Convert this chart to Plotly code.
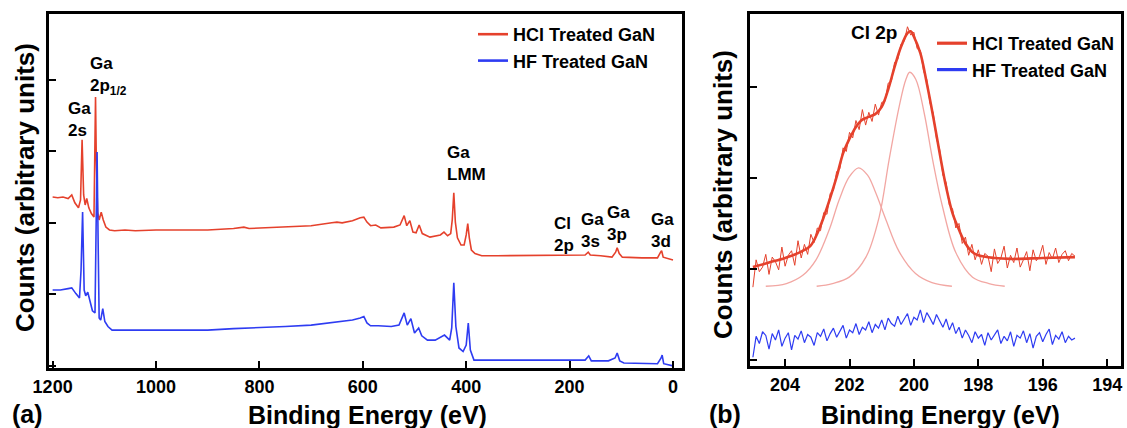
import numpy as np
import plotly.graph_objects as go

W, H = 1127, 428

# ---------------- Panel (a): survey spectra ----------------
survey_hcl_energy = [1200, 1190, 1180, 1170, 1163, 1157, 1150, 1146, 1143, 1140, 1137, 1134, 1130, 1125, 1120,
                     1118.5, 1117, 1115.5, 1113, 1110, 1106, 1102, 1097, 1090, 1080, 1060, 1040, 1000, 960, 900,
                     850, 830, 820, 780, 740, 700, 660, 650, 640, 620, 605, 598, 592, 585, 575, 565, 540, 528,
                     520, 515, 509, 503, 497, 491, 485, 470, 450, 443, 436, 430, 427, 424, 421, 417, 410, 404,
                     400, 397, 394, 390, 383, 370, 340, 300, 250, 200, 170, 164, 160, 140, 118, 111, 108, 104,
                     98, 60, 30, 24, 22, 19, 10, 0]
survey_hcl_counts = [2.36, 2.35, 2.36, 2.34, 2.39, 2.28, 2.21, 2.32, 3.16, 2.39, 2.25, 2.34, 2.21, 2.13, 2.08,
                     2.74, 3.76, 2.88, 2.15, 2.04, 2.15, 2.04, 1.94, 1.90, 1.89, 1.90, 1.89, 1.90, 1.90, 1.90,
                     1.92, 1.94, 1.92, 1.93, 1.94, 1.96, 2.00, 2.01, 2.00, 2.03, 2.07, 2.08, 2.01, 1.96, 1.97,
                     1.93, 1.94, 1.97, 2.10, 1.96, 2.03, 1.87, 1.86, 1.97, 1.85, 1.80, 1.83, 1.87, 1.82, 1.85,
                     2.04, 2.42, 2.01, 1.79, 1.69, 1.69, 1.83, 1.99, 1.79, 1.62, 1.57, 1.54, 1.54, 1.54, 1.54,
                     1.54, 1.55, 1.59, 1.55, 1.54, 1.52, 1.59, 1.65, 1.57, 1.52, 1.51, 1.51, 1.59, 1.61, 1.52,
                     1.50, 1.48]

survey_hf_energy = [1200, 1185, 1170, 1163, 1155, 1148, 1145, 1142, 1139, 1136, 1132, 1128, 1123, 1118, 1116,
                    1114, 1112, 1110, 1107, 1103, 1099, 1093, 1085, 1060, 1040, 1000, 960, 900, 850, 800, 750,
                    700, 660, 640, 620, 605, 598, 592, 585, 570, 545, 530, 520, 514, 507, 500, 492, 486, 475,
                    460, 442, 432, 428, 424, 420, 414, 406, 400, 396, 392, 385, 370, 300, 200, 170, 163, 158,
                    125, 112, 108, 103, 95, 30, 23, 21, 18, 5, 0]
survey_hf_counts = [1.06, 1.06, 1.08, 1.09, 1.01, 0.95, 1.34, 2.15, 1.06, 0.98, 1.03, 0.90, 0.77, 0.74, 1.90,
                    2.99, 1.76, 0.67, 0.64, 0.80, 0.62, 0.55, 0.50, 0.50, 0.49, 0.50, 0.49, 0.50, 0.52, 0.53,
                    0.55, 0.57, 0.60, 0.62, 0.64, 0.67, 0.69, 0.60, 0.56, 0.56, 0.55, 0.57, 0.74, 0.57, 0.66,
                    0.46, 0.53, 0.42, 0.36, 0.36, 0.43, 0.36, 0.53, 1.16, 0.55, 0.25, 0.20, 0.29, 0.60, 0.22,
                    0.08, 0.08, 0.08, 0.08, 0.08, 0.14, 0.07, 0.07, 0.11, 0.18, 0.07, 0.04, 0.03, 0.11, 0.15,
                    0.03, 0.01, 0.00]

# ---------------- Panel (b): Cl 2p region (205.0 -> 195.0 eV, 0.1 eV steps) ----------------
cl_hcl_raw = [0.80, 1.10, 0.97, 1.02, 1.16, 0.94, 1.13, 1.08, 0.99, 1.24,
              1.03, 1.15, 1.20, 1.04, 1.31, 1.12, 1.27, 1.16, 1.38, 1.29,
              1.45, 1.42, 1.62, 1.60, 1.83, 1.86, 2.07, 2.10, 2.33, 2.29,
              2.50, 2.44, 2.63, 2.53, 2.75, 2.58, 2.72, 2.62, 2.81, 2.69,
              2.83, 2.84, 3.04, 3.06, 3.27, 3.30, 3.47, 3.50, 3.66, 3.57,
              3.60, 3.42, 3.40, 3.17, 3.08, 2.82, 2.71, 2.43, 2.31, 2.03,
              1.95, 1.70, 1.66, 1.45, 1.50, 1.28, 1.35, 1.15, 1.27, 1.10,
              1.21, 1.05, 1.17, 1.14, 0.97, 1.22, 1.06, 1.12, 1.25, 1.01,
              1.15, 1.07, 1.23, 1.02, 1.10, 1.19, 0.98, 1.21, 1.09, 1.14,
              1.26, 1.05, 1.18, 1.11, 1.23, 1.07, 1.16, 1.20, 1.09, 1.17,
              1.14]
cl_hf_raw = [0.03, 0.26, 0.18, 0.31, 0.27, 0.12, 0.29, 0.22, 0.33, 0.15,
             0.24, 0.30, 0.11, 0.27, 0.23, 0.32, 0.19, 0.28, 0.25, 0.16,
             0.30, 0.26, 0.34, 0.21, 0.29, 0.35, 0.25, 0.31, 0.38, 0.24,
             0.33, 0.30, 0.40, 0.28, 0.36, 0.33, 0.42, 0.30, 0.39, 0.35,
             0.44, 0.33, 0.46, 0.40, 0.37, 0.48, 0.39, 0.45, 0.51, 0.38,
             0.47, 0.44, 0.55, 0.41, 0.52, 0.46, 0.39, 0.50, 0.43, 0.36,
             0.45, 0.33, 0.41, 0.29, 0.36, 0.24, 0.33, 0.27, 0.19, 0.31,
             0.24, 0.28, 0.16, 0.30, 0.22, 0.27, 0.33, 0.18, 0.26, 0.21,
             0.31, 0.15, 0.27, 0.24, 0.32, 0.19, 0.29, 0.13, 0.26, 0.30,
             0.20, 0.28, 0.34, 0.17, 0.27, 0.23, 0.31, 0.19, 0.26, 0.22,
             0.24]
cl_energy = [round(205.0 - 0.1 * i, 1) for i in range(len(cl_hcl_raw))]

env_energy = [205.0, 204.5, 204.0, 203.5, 203.2, 203.0, 202.8, 202.6, 202.4, 202.2, 202.0, 201.8, 201.6,
              201.4, 201.2, 201.0, 200.8, 200.6, 200.4, 200.2, 200.1, 200.0, 199.8, 199.6, 199.4, 199.2,
              199.0, 198.8, 198.6, 198.4, 198.2, 198.0, 197.5, 197.0, 196.0, 195.0]
env_counts = [1.02, 1.07, 1.12, 1.19, 1.26, 1.39, 1.57, 1.78, 2.01, 2.27, 2.43, 2.56, 2.64,
              2.67, 2.70, 2.78, 2.97, 3.22, 3.44, 3.59, 3.61, 3.55, 3.37, 3.04, 2.67, 2.27,
              1.90, 1.61, 1.43, 1.28, 1.19, 1.15, 1.12, 1.11, 1.12, 1.13]

comp1_energy = [204.6, 203.96, 203.45, 203.04, 202.63, 202.32, 202.01, 201.72, 201.44, 201.18, 200.87,
                200.46, 199.95, 199.44, 198.82]
comp1_counts = [0.81, 0.84, 0.93, 1.10, 1.43, 1.76, 2.01, 2.11, 2.03, 1.83, 1.54, 1.19, 0.95, 0.85, 0.81]

comp2_energy = [203.02, 202.53, 202.01, 201.49, 201.08, 200.77, 200.46, 200.25, 200.13, 199.94, 199.68,
                199.42, 199.11, 198.70, 198.18, 197.67, 197.18]
comp2_counts = [0.81, 0.84, 0.91, 1.13, 1.57, 2.20, 2.78, 3.08, 3.16, 3.08, 2.71, 2.20, 1.68, 1.18, 0.91,
                0.84, 0.81]

series_names = ["HCl Treated GaN", "HF Treated GaN"]
ticks_a = [1200, 1000, 800, 600, 400, 200, 0]
ticks_b = [204, 202, 200, 198, 196, 194]

RED = "#e5412c"
BLUE = "#2e3cf2"
PINK = "#f2a7a3"
FONT = "Liberation Sans, Arial, sans-serif"


def px(x):
    return x / W


def py(y):
    return 1 - y / H


fig = go.Figure()

fig.add_trace(go.Scatter(x=survey_hcl_energy, y=survey_hcl_counts, mode="lines", name=series_names[0],
                         line=dict(color=RED, width=1.6), xaxis="x", yaxis="y", showlegend=False))
fig.add_trace(go.Scatter(x=survey_hf_energy, y=survey_hf_counts, mode="lines", name=series_names[1],
                         line=dict(color=BLUE, width=1.6), xaxis="x", yaxis="y", showlegend=False))

fig.add_trace(go.Scatter(x=comp1_energy, y=comp1_counts, mode="lines", line=dict(color=PINK, width=1.3, shape="spline"),
                         xaxis="x2", yaxis="y2", showlegend=False))
fig.add_trace(go.Scatter(x=comp2_energy, y=comp2_counts, mode="lines", line=dict(color=PINK, width=1.3, shape="spline"),
                         xaxis="x2", yaxis="y2", showlegend=False))
fig.add_trace(go.Scatter(x=cl_energy, y=cl_hcl_raw, mode="lines", line=dict(color=RED, width=1),
                         xaxis="x2", yaxis="y2", showlegend=False))
fig.add_trace(go.Scatter(x=env_energy, y=env_counts, mode="lines", name=series_names[0],
                         line=dict(color=RED, width=2.6, shape="spline"), xaxis="x2", yaxis="y2", showlegend=False))
fig.add_trace(go.Scatter(x=cl_energy, y=cl_hf_raw, mode="lines", name=series_names[1],
                         line=dict(color=BLUE, width=1.2), xaxis="x2", yaxis="y2", showlegend=False))

# legend-only entries (thicker key lines, as in the reference)
for leg, xa, ya, lw in (("legend", "x", "y", 2.6), ("legend2", "x2", "y2", 3.2)):
    for name, col in zip(series_names, (RED, BLUE)):
        fig.add_trace(go.Scatter(x=[None], y=[None], mode="lines", name=name, line=dict(color=col, width=lw),
                                 xaxis=xa, yaxis=ya, legend=leg, showlegend=True))

axis_common = dict(showline=True, linewidth=3, linecolor="black", mirror=True, ticks="inside",
                   ticklen=7, tickwidth=2, tickcolor="black", showgrid=False, zeroline=False,
                   automargin=False)

fig.update_layout(
    width=W, height=H,
    margin=dict(l=0, r=0, t=0, b=0, autoexpand=False),
    paper_bgcolor="white", plot_bgcolor="white",
    xaxis=dict(domain=[px(49), px(682)], range=[1207, -17.4], tickvals=ticks_a, anchor="y",
               tickfont=dict(family=FONT, size=18, color="black", weight="bold"), ticklabelstandoff=0,
               **axis_common),
    yaxis=dict(domain=[py(368), py(14)], range=[-0.03, 4.92], tickvals=[0, 1, 2, 3, 4],
               showticklabels=False, anchor="x", **axis_common),
    xaxis2=dict(domain=[px(750), px(1121)], range=[205.09, 193.57], tickvals=ticks_b, anchor="y2",
                tickfont=dict(family=FONT, size=18, color="black", weight="bold"), ticklabelstandoff=0,
                **axis_common),
    yaxis2=dict(domain=[py(366), py(14)], range=[-0.066, 3.80], tickvals=[0, 1, 2, 3],
                showticklabels=False, anchor="x2", **axis_common),
    legend=dict(x=px(473), y=py(16), xanchor="left", yanchor="top", bgcolor="rgba(0,0,0,0)",
                font=dict(family=FONT, size=18, color="black", weight="bold"), tracegroupgap=0),
    legend2=dict(x=px(932), y=py(25), xanchor="left", yanchor="top", bgcolor="rgba(0,0,0,0)",
                 font=dict(family=FONT, size=18, color="black", weight="bold"), tracegroupgap=0),
    showlegend=True,
)

annots = []


def lab(text, x, y, size=16, align="left", xanchor="left", angle=0):
    annots.append(dict(text=text, x=px(x), y=py(y), xref="paper", yref="paper", showarrow=False,
                       xanchor=xanchor, yanchor="middle", align=align, textangle=angle,
                       font=dict(family=FONT, size=size, color="black", weight="bold")))


lab("Ga<br>2s", 66, 119, size=17)
lab("Ga<br>2p<sub>1/2</sub>", 88, 76, size=17)
lab("Ga<br>LMM", 445, 163, size=17)
lab("Cl<br>2p", 552, 234, size=17)
lab("Ga<br>3s", 579, 230, size=17)
lab("Ga<br>3p", 605, 223, size=17)
lab("Ga<br>3d", 649, 230, size=17)
lab("Cl 2p", 874, 32, size=19, xanchor="center")

lab("Binding Energy (eV)", 368, 415, size=25, xanchor="center")
lab("Binding Energy (eV)", 940, 415, size=25, xanchor="center")
lab("Counts (arbitrary units)", 25, 188, size=26, xanchor="center", angle=-90)
lab("Counts (arbitrary units)", 723, 195, size=26, xanchor="center", angle=-90)
lab("(a)", 28, 414, size=25, xanchor="center")
lab("(b)", 725, 414, size=25, xanchor="center")

fig.update_layout(annotations=annots)

fig.write_html("out.html", config={"displayModeBar": False},
               post_script="document.body.style.margin='0';document.body.style.overflow='hidden';")
